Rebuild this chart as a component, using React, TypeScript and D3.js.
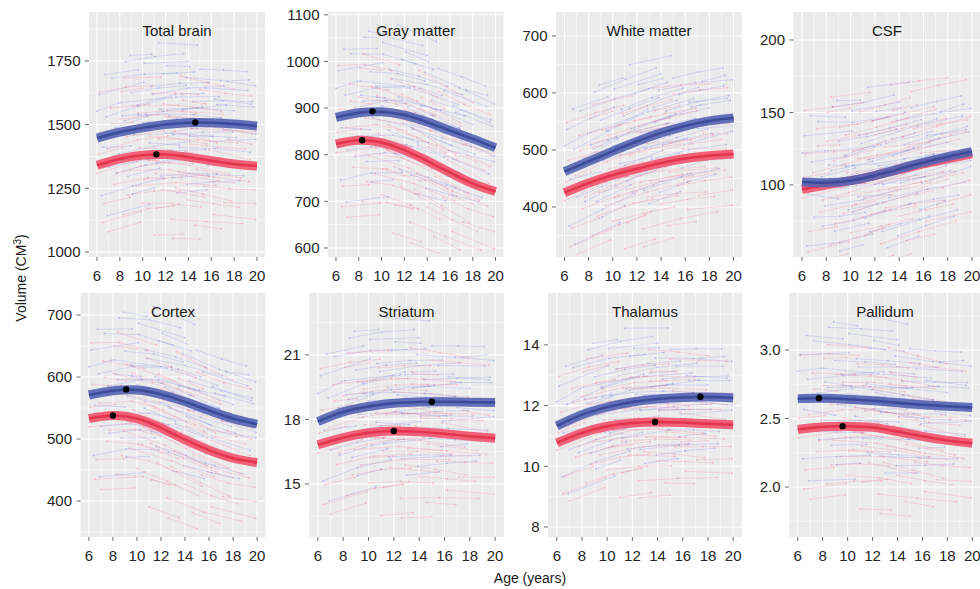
import * as d3 from "d3";

// ---- data ----
const PANEL_NAMES = ["Total brain", "Gray matter", "White matter", "CSF", "Cortex", "Striatum", "Thalamus", "Pallidum"];
const AGE_GRID = [6, 8, 10, 12, 14, 16, 18, 20];
const AGE_TICKS = [6, 8, 10, 12, 14, 16, 18, 20];

const MALE_FIT = [
  [1447, 1470, 1487, 1500, 1507, 1507, 1502, 1494],
  [880, 890, 892, 885, 870, 852, 834, 815],
  [462, 480, 498, 515, 530, 542, 551, 556],
  [102, 101.5, 103, 106.5, 111, 115.5, 119.5, 123],
  [571, 578, 579, 572, 560, 546, 533, 524],
  [17.9, 18.35, 18.6, 18.75, 18.81, 18.82, 18.8, 18.79],
  [11.33, 11.7, 11.95, 12.12, 12.22, 12.27, 12.28, 12.25],
  [2.645, 2.647, 2.64, 2.63, 2.615, 2.6, 2.59, 2.58],
];
const FEMALE_FIT = [
  [1340, 1365, 1380, 1382, 1372, 1358, 1345, 1337],
  [823, 831, 826, 810, 787, 762, 738, 721],
  [425, 442, 456, 467, 477, 485, 490, 493],
  [97, 100, 103, 106.5, 110.5, 114.5, 118, 121.5],
  [533, 538, 533, 518, 499, 482, 469, 462],
  [16.82, 17.15, 17.38, 17.46, 17.42, 17.33, 17.22, 17.12],
  [10.77, 11.1, 11.32, 11.43, 11.46, 11.44, 11.4, 11.37],
  [2.42, 2.44, 2.444, 2.435, 2.405, 2.37, 2.34, 2.32],
];
// peak age / volume (black dots), null where no peak
const MALE_PEAK: ([number, number] | null)[] = [[14.6, 1508], [9.2, 893], null, null, [9.1, 580], [15, 18.82], [17.4, 12.29], [7.7, 2.648]];
const FEMALE_PEAK: ([number, number] | null)[] = [[11.2, 1383], [8.3, 831], null, null, [8.0, 538], [12.0, 17.46], [13.8, 11.46], [9.6, 2.444]];

const Y_TICKS = [
  [1000, 1250, 1500, 1750],
  [600, 700, 800, 900, 1000, 1100],
  [400, 500, 600, 700],
  [100, 150, 200],
  [400, 500, 600, 700],
  [15, 18, 21],
  [8, 10, 12, 14],
  [2.0, 2.5, 3.0],
];
const Y_DOMAINS: [number, number][] = [
  [980, 1942], [580.7, 1106], [312.3, 742], [50.3, 219.3],
  [342, 735.5], [12.53, 23.88], [7.67, 15.71], [1.635, 3.416],
];
// between-subject spread per region
const SPREAD = [105, 62, 45, 20, 45, 1.3, 0.8, 0.2];

// individual trajectories: [first scan age, last scan age, offset (SD), drift (SD)]
const MALE_SUBJECTS = [
  [6.2, 10.1, 1.6, 0.1], [6.5, 9.0, -0.4, -0.2], [6.8, 12.5, 0.7, 0.3], [7.0, 11.2, -1.2, 0.0],
  [7.3, 13.0, 2.1, -0.2], [7.6, 10.4, 0.2, 0.2], [7.9, 14.1, -0.8, 0.1], [8.1, 12.0, 1.1, -0.1],
  [8.4, 15.2, 0.4, 0.2], [8.7, 11.5, -1.7, 0.1], [9.0, 13.8, 1.4, 0.0], [9.2, 16.0, -0.2, -0.3],
  [9.5, 12.9, 0.9, 0.2], [9.8, 15.5, -1.0, 0.0], [10.1, 14.0, 2.4, -0.1], [10.3, 16.9, 0.1, 0.1],
  [10.6, 13.2, -0.6, -0.2], [10.9, 17.1, 1.2, 0.2], [11.2, 15.0, -1.4, 0.1], [11.5, 18.0, 0.6, -0.1],
  [11.8, 14.5, 1.9, 0.0], [12.0, 17.5, -0.3, 0.2], [12.3, 16.2, 0.3, -0.2], [12.6, 18.8, -2.0, 0.1],
  [12.9, 16.7, 1.0, 0.0], [13.2, 19.4, -0.9, -0.1], [13.5, 17.3, 0.5, 0.2], [13.8, 19.9, 1.7, -0.2],
  [14.1, 18.2, -0.5, 0.0], [14.4, 19.6, 0.8, 0.1], [14.8, 18.9, -1.3, -0.1], [15.1, 19.8, 0.0, 0.1],
  [15.5, 19.2, 1.3, 0.0], [15.9, 19.9, -0.7, 0.2], [16.3, 19.5, 0.9, -0.1], [6.1, 8.7, 0.0, 0.1],
  [6.4, 11.8, -2.2, 0.2], [8.9, 10.8, 2.8, -0.1], [13.0, 15.6, -2.6, 0.1], [10.0, 19.0, 0.2, -0.1],
  [6.0, 7.9, 1.0, 0.1], [6.7, 9.6, 2.3, -0.1], [7.1, 8.8, -0.1, 0.1], [7.7, 12.8, -1.5, 0.2],
  [8.2, 10.3, 0.6, -0.1], [8.5, 13.6, 2.6, 0.0], [9.1, 11.0, -2.4, 0.1], [9.6, 14.4, 0.5, -0.2],
  [10.2, 12.2, -1.1, 0.1], [10.7, 15.8, 1.5, 0.0], [11.0, 13.0, 0.0, 0.2], [11.6, 16.5, -1.9, 0.0],
  [12.1, 14.1, 2.2, -0.1], [12.7, 17.9, -0.4, 0.1], [13.4, 15.3, 1.1, 0.0], [13.9, 18.5, -2.3, 0.2],
  [14.5, 16.8, 0.3, -0.1], [15.0, 19.1, 2.0, 0.0], [15.7, 17.8, -1.6, 0.1], [16.5, 19.7, 0.7, 0.0],
  [17.0, 19.9, -0.2, -0.1], [17.4, 19.3, 1.6, 0.1], [6.9, 10.6, -3.0, 0.1], [11.4, 14.8, 3.1, -0.2],
];
const FEMALE_SUBJECTS = [
  [6.0, 9.5, -0.3, 0.1], [6.3, 11.0, 1.2, -0.2], [6.6, 8.9, -1.5, 0.0], [6.9, 12.2, 0.5, 0.2],
  [7.2, 10.6, 2.0, -0.1], [7.5, 13.4, -0.9, 0.1], [7.8, 11.3, 0.0, -0.2], [8.0, 14.6, 1.5, 0.0],
  [8.3, 12.7, -2.1, 0.2], [8.6, 11.9, 0.8, 0.1], [8.9, 15.8, -0.5, -0.1], [9.1, 13.1, 1.9, 0.0],
  [9.4, 16.4, -1.1, 0.2], [9.7, 12.5, 0.3, -0.1], [10.0, 15.1, -1.8, 0.0], [10.2, 14.3, 1.0, 0.1],
  [10.5, 17.6, -0.2, -0.2], [10.8, 14.9, 2.3, 0.1], [11.1, 16.6, -0.7, 0.0], [11.4, 18.3, 0.6, 0.2],
  [11.7, 15.4, -1.3, -0.1], [12.0, 17.9, 1.4, 0.0], [12.2, 15.9, -0.1, 0.1], [12.5, 18.7, -2.4, 0.2],
  [12.8, 16.5, 0.9, -0.2], [13.1, 19.3, -0.6, 0.0], [13.4, 17.0, 1.7, 0.1], [13.7, 19.7, 0.2, -0.1],
  [14.0, 18.4, -1.6, 0.0], [14.3, 19.9, 1.1, 0.2], [14.7, 18.6, -0.4, -0.1], [15.0, 19.5, 2.6, 0.0],
  [15.4, 19.8, -1.0, 0.1], [15.8, 19.4, 0.4, -0.2], [16.2, 19.9, -2.0, 0.0], [6.2, 10.9, 2.7, -0.1],
  [7.0, 9.8, -2.6, 0.1], [9.3, 14.0, 0.1, 0.0], [11.0, 13.5, -3.0, 0.1], [13.3, 18.0, 3.0, -0.2],
  [6.1, 8.2, 0.4, 0.0], [6.5, 9.9, -2.2, 0.1], [7.3, 9.1, 1.4, -0.1], [7.7, 12.0, -0.5, 0.2],
  [8.1, 10.0, 2.5, 0.0], [8.7, 13.3, -1.4, 0.1], [9.0, 11.1, 0.0, -0.2], [9.6, 14.7, 1.6, 0.1],
  [10.1, 12.0, -0.9, 0.0], [10.6, 15.6, 0.7, -0.1], [11.2, 13.2, -2.0, 0.2], [11.8, 16.9, 1.9, 0.0],
  [12.3, 14.4, -0.3, 0.1], [12.9, 17.7, -1.2, -0.2], [13.5, 15.5, 2.1, 0.0], [14.1, 19.0, 0.5, 0.1],
  [14.6, 16.9, -2.5, 0.0], [15.2, 19.6, 1.3, -0.1], [15.9, 18.0, -0.8, 0.1], [16.6, 19.8, 0.1, 0.0],
  [17.1, 19.9, -1.5, 0.1], [17.5, 19.5, 0.9, -0.1], [8.4, 11.6, 3.0, -0.1], [12.6, 15.0, -3.1, 0.1],
];

// ---- layout ----
const W = 980, H = 589;
const ROWS = [[12, 257], [293, 537]];
const COLS = [
  [[89, 265], [328, 503.5], [556, 742], [793.5, 980.5]],
  [[80.5, 265.5], [309, 504], [548, 742], [789, 981]],
];
const FONT = "'Liberation Sans', Arial, Helvetica, sans-serif";
const BLUE = { line: "rgba(55,70,220,0.22)", band: "#5363b2", core: "#3b4a9b" };
const RED = { line: "rgba(250,55,90,0.22)", band: "#f2526b", core: "#e4334c" };

function minorBreaks(major: number[], lo: number, hi: number) {
  const step = major[1] - major[0];
  const ext = [major[0] - step, ...major, major[major.length - 1] + step];
  const out: number[] = [];
  for (let k = 0; k < ext.length - 1; k++) {
    const m = (ext[k] + ext[k + 1]) / 2;
    if (m > lo && m < hi) out.push(m);
  }
  return out;
}

function Panel({ i }: { i: number }) {
  const row = i < 4 ? 0 : 1;
  const [x0, x1] = COLS[row][i % 4];
  const [y0, y1] = ROWS[row];
  const x = d3.scaleLinear().domain([5.3, 20.7]).range([x0, x1]);
  const y = d3.scaleLinear().domain(Y_DOMAINS[i]).range([y1, y0]);
  const [lo, hi] = Y_DOMAINS[i];
  const yTicks = Y_TICKS[i].filter((t) => t >= lo && t <= hi);

  const fitLine = d3
    .line<number>()
    .x((_, k) => x(AGE_GRID[k]))
    .y((v) => y(v))
    .curve(d3.curveNatural);

  const trajectories = (subjects: number[][], fit: number[], color: string, key: string) => {
    const mean = d3.scaleLinear().domain(AGE_GRID).range(fit);
    return subjects.map((s, k) => {
      const [a0, a1, z, drift] = s;
      const obs = a1 - a0 > 4 ? [a0, (a0 + a1) / 2, a1] : [a0, a1];
      const pts = obs.map((a) => [x(a), y(mean(a) + SPREAD[i] * (z + (drift * (a - a0)) / (a1 - a0)))]);
      return (
        <g key={key + k}>
          <path d={d3.line()(pts as [number, number][]) || ""} fill="none" stroke={color} strokeWidth={0.7} />
          {pts.map((p, m) => (
            <circle key={m} cx={p[0]} cy={p[1]} r={1} fill={color} />
          ))}
        </g>
      );
    });
  };

  const fmt = i === 7 ? d3.format(".1f") : d3.format("d");

  return (
    <g>
      <clipPath id={`clip${i}`}>
        <rect x={x0} y={y0} width={x1 - x0} height={y1 - y0} />
      </clipPath>
      <rect x={x0} y={y0} width={x1 - x0} height={y1 - y0} fill="#ebebeb" />
      {minorBreaks(yTicks, lo, hi).map((t) => (
        <line key={"ym" + t} x1={x0} x2={x1} y1={y(t)} y2={y(t)} stroke="#fff" strokeWidth={0.55} />
      ))}
      {minorBreaks(AGE_TICKS, 5.3, 20.7).map((t) => (
        <line key={"xm" + t} y1={y0} y2={y1} x1={x(t)} x2={x(t)} stroke="#fff" strokeWidth={0.55} />
      ))}
      {yTicks.map((t) => (
        <line key={"y" + t} x1={x0} x2={x1} y1={y(t)} y2={y(t)} stroke="#fff" strokeWidth={1.1} />
      ))}
      {AGE_TICKS.map((t) => (
        <line key={"x" + t} y1={y0} y2={y1} x1={x(t)} x2={x(t)} stroke="#fff" strokeWidth={1.1} />
      ))}
      <text x={(x0 + x1) / 2} y={y0 + 23.5} textAnchor="middle" fontSize={15} fill="#1a1a1a">
        {PANEL_NAMES[i]}
      </text>
      <g clipPath={`url(#clip${i})`}>
        {trajectories(MALE_SUBJECTS, MALE_FIT[i], BLUE.line, "m")}
        {trajectories(FEMALE_SUBJECTS, FEMALE_FIT[i], RED.line, "f")}
        <path d={fitLine(FEMALE_FIT[i]) || ""} fill="none" stroke={RED.band} strokeWidth={9} opacity={0.9} />
        <path d={fitLine(FEMALE_FIT[i]) || ""} fill="none" stroke={RED.core} strokeWidth={2.5} />
        <path d={fitLine(MALE_FIT[i]) || ""} fill="none" stroke={BLUE.band} strokeWidth={9} opacity={0.9} />
        <path d={fitLine(MALE_FIT[i]) || ""} fill="none" stroke={BLUE.core} strokeWidth={2.5} />
        {[MALE_PEAK[i], FEMALE_PEAK[i]].map((p, k) =>
          p ? <circle key={k} cx={x(p[0])} cy={y(p[1])} r={3.2} fill="#000" /> : null
        )}
      </g>
      {yTicks.map((t) => (
        <g key={"yl" + t}>
          <line x1={x0 - 4} x2={x0} y1={y(t)} y2={y(t)} stroke="#444" strokeWidth={0.8} />
          <text x={x0 - 8.5} y={y(t) + 5.3} textAnchor="end" fontSize={15} fill="#262626">
            {fmt(t)}
          </text>
        </g>
      ))}
      {AGE_TICKS.map((t) => (
        <g key={"xl" + t}>
          <line y1={y1} y2={y1 + 4} x1={x(t)} x2={x(t)} stroke="#444" strokeWidth={0.8} />
          <text x={x(t)} y={y1 + 23.5} textAnchor="middle" fontSize={15} fill="#262626">
            {t}
          </text>
        </g>
      ))}
    </g>
  );
}

export default function App() {
  return (
    <svg
      width={W}
      height={H}
      viewBox={`0 0 ${W} ${H}`}
      style={{ position: "absolute", left: 0, top: 0, background: "#fff" }}
      fontFamily={FONT}
    >
      {PANEL_NAMES.map((_, i) => (
        <Panel key={i} i={i} />
      ))}
      <text x={530} y={583} textAnchor="middle" fontSize={14} fill="#1a1a1a">
        Age (years)
      </text>
      <text transform="translate(26,278) rotate(-90)" textAnchor="middle" fontSize={14} fill="#1a1a1a">
        Volume (CM<tspan dy={-5} fontSize={10}>3</tspan>
        <tspan dy={5}>)</tspan>
      </text>
    </svg>
  );
}
